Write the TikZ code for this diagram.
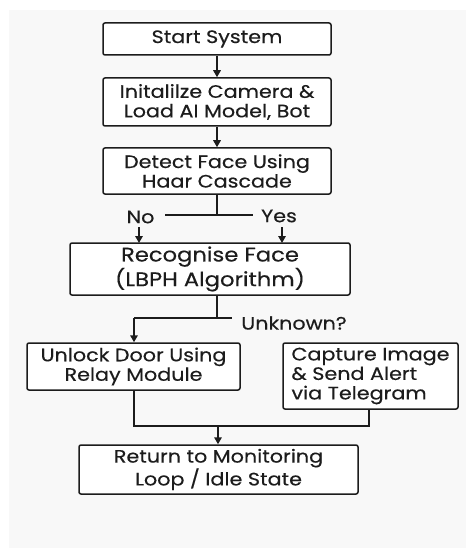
\documentclass[tikz,border=0pt]{standalone}
\usepackage{fontspec}
\setmainfont{Poppins}[FakeStretch=1.15, FakeBold=0.35]
\usetikzlibrary{arrows.meta}
\definecolor{ink}{HTML}{1C1C1C}
\definecolor{paper}{HTML}{F8F8F8}
\tikzset{
  boxfont/.style={font=\fontsize{18}{19.5}\selectfont},
  stepbox/.style={draw=ink, line width=1.5pt, rounded corners=2pt, fill=white,
    inner sep=0pt, align=center, boxfont, text=ink},
  link/.style={draw=ink, line width=1.5pt},
  arr/.style={link, -{Triangle[length=7pt,width=7.5pt]}},
  lbl/.style={boxfont, text=ink, inner sep=0pt}
}
\begin{document}
\begin{tikzpicture}[x=1pt, y=-1pt]
  \useasboundingbox (0,0) rectangle (466,548);
  \fill[paper] (9,10) rectangle (466,548);

  % process boxes
  \node[stepbox, minimum width=228pt, minimum height=32pt] (start) at (217,39) {Start System};
  \node[stepbox, minimum width=228pt, minimum height=48pt] (init) at (217,102) {Initalilze Camera \&\\Load AI Model, Bot};
  \node[stepbox, minimum width=228pt, minimum height=46pt] (detect) at (217,171) {Detect Face Using\\Haar Cascade};
  \node[stepbox, minimum width=280pt, minimum height=52pt, font=\fontsize{19.7}{20.5}\selectfont] (recog) at (210,269) {Recognise Face\\(LBPH Algorithm)};
  \node[stepbox, minimum width=213pt, minimum height=47pt] (unlock) at (133.5,366.5) {Unlock Door Using\\Relay Module};
  \node[stepbox, minimum width=175pt, minimum height=66pt, align=left] (alert) at (370.5,376) {Capture Image\\\& Send Alert\\via Telegram};
  \node[stepbox, minimum width=279pt, minimum height=49pt] (idle) at (218.5,469.5) {Return to Monitoring\\Loop / Idle State};

  % branch labels
  \node[lbl] (no) at (140.5,217) {No};
  \node[lbl] (yes) at (279,216) {Yes};
  \node[lbl] (unk) at (294,323) {Unknown?};

  % junction points
  \coordinate (split) at (217,215);
  \coordinate (noend) at (165,215);
  \coordinate (yesend) at (253,215);
  \coordinate (join) at (217,318);
  \coordinate (left) at (134,318);
  \coordinate (right) at (232,318);
  \coordinate (merge) at (218,426);

  \draw[arr] (start) -- (init);
  \draw[arr] (init) -- (detect);
  \draw[link] (detect) -- (split);
  \draw[link] (noend) -- (yesend);
  \draw[arr] (139,227) -- (139,243);
  \draw[arr] (282,227) -- (282,243);

  \draw[link] (recog.south -| join) -- (join);
  \draw[link] (left) -- (right);
  \draw[arr] (left) -- (unlock.north -| left);

  \draw[link] (unlock.south -| left) |- (merge) -| (alert.south -| 369,0);
  \draw[arr] (merge) -- (idle.north -| merge);
\end{tikzpicture}
\end{document}
